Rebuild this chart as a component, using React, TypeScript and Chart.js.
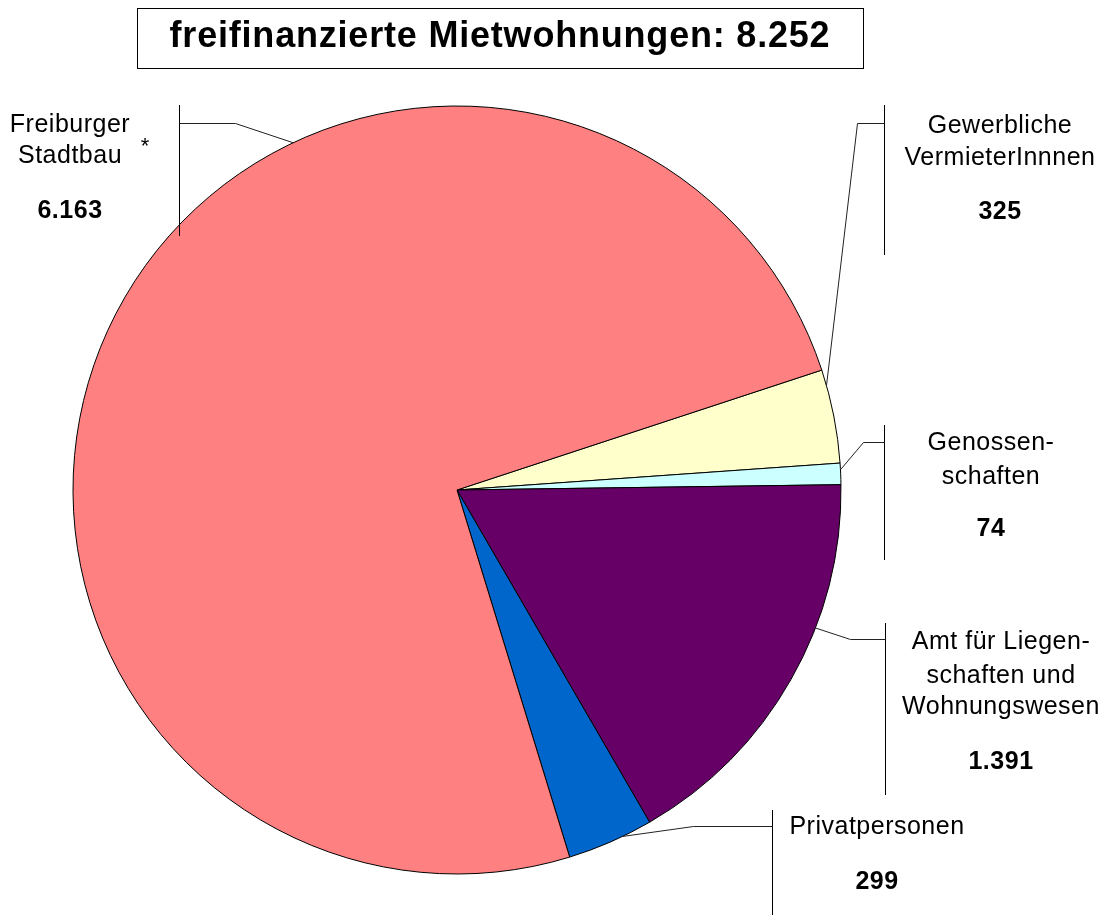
import React, { useEffect, useRef } from "react";
import { Chart, registerables } from "chart.js";

Chart.register(...registerables);

// ---- data ----
const categories = [
  "Gewerbliche VermieterInnnen",
  "Genossenschaften",
  "Amt für Liegenschaften und Wohnungswesen",
  "Privatpersonen",
  "Freiburger Stadtbau",
];
const values = [325, 74, 1391, 299, 6163];
const valueLabels = ["325", "74", "1.391", "299", "6.163"];
const labelLines = [
  ["Gewerbliche", "VermieterInnnen"],
  ["Genossen-", "schaften"],
  ["Amt für Liegen-", "schaften und", "Wohnungswesen"],
  ["Privatpersonen"],
  ["Freiburger", "Stadtbau"],
];
const titleText = "freifinanzierte Mietwohnungen: 8.252";

// ---- styles / layout ----
const colors = ["#FFFFCC", "#CCFFFF", "#660066", "#0066CC", "#FF8080"];
const FONT = "'Liberation Sans', Arial, sans-serif";

type LabelLayout = {
  textX: number;
  lineYs: number[];
  valueY: number;
  barX: number;
  barY0: number;
  barY1: number;
  elbowX: number;
  elbowY: number;
  frac: number;
};

const layouts: LabelLayout[] = [
  { textX: 1000, lineYs: [126, 158], valueY: 212, barX: 884, barY0: 105, barY1: 255, elbowX: 857, elbowY: 123, frac: 0.17 },
  { textX: 991, lineYs: [443, 477], valueY: 529, barX: 884, barY0: 425, barY1: 560, elbowX: 863, elbowY: 442, frac: 0.31 },
  { textX: 1001, lineYs: [642, 676, 707], valueY: 762, barX: 885, barY0: 623, barY1: 795, elbowX: 850, elbowY: 639, frac: 0.36 },
  { textX: 877, lineYs: [827], valueY: 882, barX: 772, barY0: 810, barY1: 915, elbowX: 693, elbowY: 826, frac: 0.35 },
  { textX: 70, lineYs: [125, 156], valueY: 211, barX: 179, barY0: 105, barY1: 236, elbowX: 235, elbowY: 123, frac: 0.639 },
];

const overlayPlugin = {
  id: "overlay",
  afterDraw(chart: any) {
    const ctx: CanvasRenderingContext2D = chart.ctx;
    const meta = chart.getDatasetMeta(0);
    ctx.save();

    // Title box
    ctx.strokeStyle = "#000";
    ctx.lineWidth = 1;
    ctx.strokeRect(137.5, 8.5, 726, 60);
    ctx.fillStyle = "#000";
    ctx.textAlign = "center";
    ctx.textBaseline = "middle";
    ctx.font = `bold 36px ${FONT}`;
    (ctx as any).letterSpacing = "0.8px";
    ctx.fillText(titleText, 500, 37);

    // Labels + leader lines
    layouts.forEach((L, i) => {
      const arc = meta.data[i];
      if (!arc) return;
      const p = arc.getProps(["x", "y", "startAngle", "endAngle", "outerRadius"], true);
      const ang = p.startAngle + L.frac * (p.endAngle - p.startAngle);
      const ax = p.x + Math.cos(ang) * p.outerRadius;
      const ay = p.y + Math.sin(ang) * p.outerRadius;

      ctx.strokeStyle = "#000";
      ctx.lineWidth = 1;
      // vertical bar
      ctx.beginPath();
      ctx.moveTo(L.barX + 0.5, L.barY0);
      ctx.lineTo(L.barX + 0.5, L.barY1);
      ctx.stroke();
      // leader
      ctx.strokeStyle = "#222";
      ctx.beginPath();
      ctx.moveTo(L.barX + 0.5, L.elbowY + 0.5);
      ctx.lineTo(L.elbowX + 0.5, L.elbowY + 0.5);
      ctx.lineTo(ax, ay);
      ctx.stroke();

      // text
      ctx.fillStyle = "#000";
      ctx.textAlign = "center";
      ctx.textBaseline = "middle";
      ctx.font = `25px ${FONT}`;
      (ctx as any).letterSpacing = "0.5px";
      labelLines[i].forEach((t, k) => ctx.fillText(t, L.textX, L.lineYs[k]));
      ctx.font = `bold 25px ${FONT}`;
      (ctx as any).letterSpacing = "0.5px";
      ctx.fillText(valueLabels[i], L.textX, L.valueY);
    });

    // asterisk next to Freiburger Stadtbau
    ctx.font = `22px ${FONT}`;
    (ctx as any).letterSpacing = "0px";
    ctx.fillText("*", 145, 147);

    ctx.restore();
  },
};

export default function App() {
  const ref = useRef<HTMLCanvasElement | null>(null);

  useEffect(() => {
    if (!ref.current) return;
    const chart = new Chart(ref.current, {
      type: "pie",
      data: {
        labels: categories,
        datasets: [
          {
            data: values,
            backgroundColor: colors,
            borderColor: "#000",
            borderWidth: 1,
          },
        ],
      },
      options: {
        responsive: false,
        animation: false,
        rotation: 71.8,
        radius: 384,
        layout: { padding: { left: 0, right: 190, top: 65, bottom: 0 } },
        plugins: {
          legend: { display: false },
          title: { display: false },
          tooltip: { enabled: false },
        },
      },
      plugins: [overlayPlugin],
    } as any);
    return () => chart.destroy();
  }, []);

  return (
    <div style={{ position: "absolute", left: 0, top: 0, width: 1104, height: 915, background: "#fff" }}>
      <canvas ref={ref} width={1104} height={915} style={{ display: "block" }} />
    </div>
  );
}
